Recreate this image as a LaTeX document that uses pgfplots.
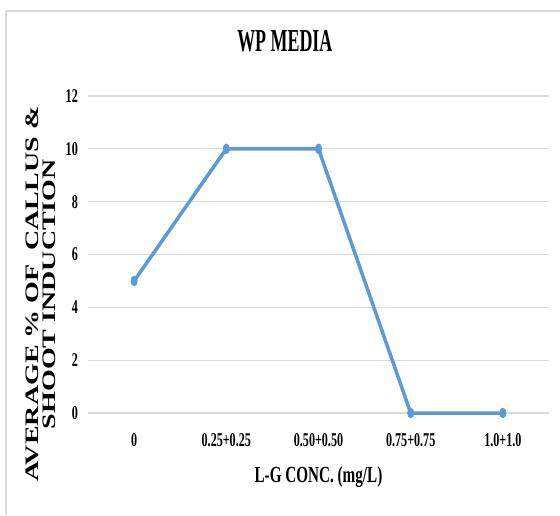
\documentclass[border=0pt]{standalone}
\usepackage{graphicx}
\usepackage{fontspec}
\setmainfont{Liberation Serif}[FakeStretch=0.66]
\newfontfamily\titlefont{Liberation Serif}[FakeStretch=0.56]
\newfontfamily\tickfont{Liberation Serif}[FakeStretch=0.62]
\newfontfamily\ylabfont{Liberation Serif}
\usepackage{pgfplots}
\pgfplotsset{compat=1.18}

\definecolor{serieblue}{HTML}{5B9BD5}
\definecolor{gridgray}{HTML}{D9D9D9}

\begin{document}
\begin{tikzpicture}
% page frame and chart border
\path[use as bounding box] (-88pt,-102pt) rectangle (472pt,413pt);
\draw[gridgray, line width=1.2pt] (-82pt,-102pt) -- (-82pt,402pt) -- (472pt,402pt);

\begin{axis}[
  at={(0pt,0pt)}, anchor=south west,
  scale only axis,
  width=461pt, height=317pt,
  xmin=-0.5, xmax=4.5,
  ymin=0, ymax=12,
  xtick={0,1,2,3,4},
  xticklabels={0,0.25+0.25,0.50+0.50,0.75+0.75,1.0+1.0},
  ytick={0,2,4,6,8,10,12},
  ymajorgrids,
  grid style={gridgray, line width=1.3pt},
  axis line style={draw=none},
  major tick length=0pt,
  /pgf/number format/assume math mode=true,
  ticklabel style={font=\tickfont\bfseries\fontsize{19.5}{19.5}\selectfont, inner sep=0pt},
  yticklabel style={anchor=east, xshift=-10pt},
  xticklabel style={anchor=north, yshift=-20pt},
  title={WP MEDIA},
  title style={font=\titlefont\bfseries\fontsize{32}{32}\selectfont,
    at={(axis description cs:0.427,1.12)}, anchor=base, inner sep=0pt},
  xlabel={L-G CONC. (mg/L)},
  xlabel style={font=\bfseries\fontsize{23}{23}\selectfont,
    at={(axis description cs:0.5,-0.218)}, anchor=base, inner sep=0pt},
  ylabel={\scalebox{1}[0.68]{\ylabfont\bfseries\fontsize{28}{23}\selectfont
    \begin{tabular}{@{}c@{}}
      \makebox[0pt][c]{AVERAGE \%\ OF \ CALLUS \&}\\
      \makebox[0pt][c]{SHOOT INDUCTION}
    \end{tabular}}},
  ylabel style={at={(axis description cs:-0.098,0.375)}, anchor=center, inner sep=0pt},
  clip=false,
]
\addplot[serieblue, line width=3.5pt, mark=*,
  mark options={xscale=0.65, fill=serieblue, draw=serieblue, line width=0.5pt},
  mark size=5pt]
  coordinates {(0,5) (1,10) (2,10) (3,0) (4,0)};
\end{axis}
\end{tikzpicture}
\end{document}
